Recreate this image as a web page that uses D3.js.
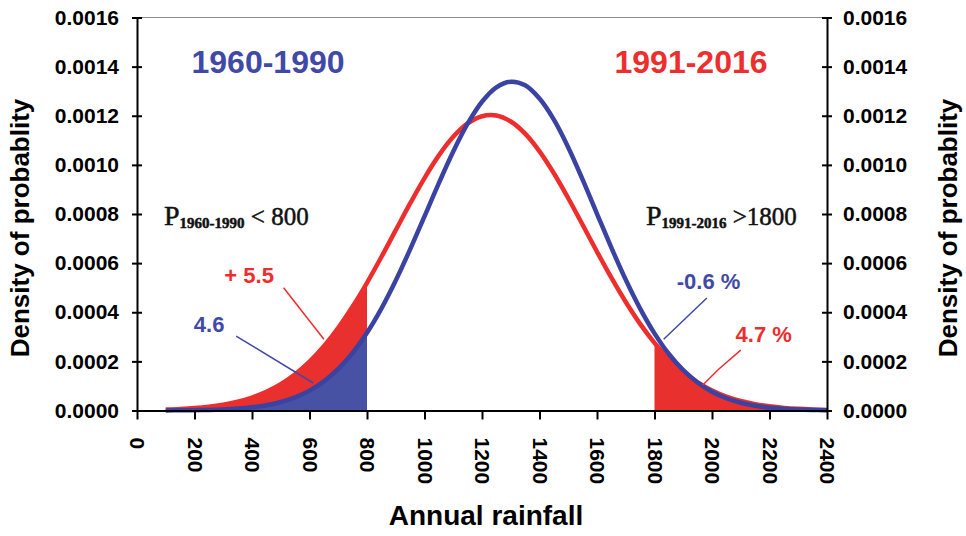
<!DOCTYPE html>
<html>
<head>
<meta charset="utf-8">
<script src="https://cdn.jsdelivr.net/npm/d3@7"></script>
<style>
  html, body { margin: 0; padding: 0; background: #fff; }
  svg { display: block; }
  text { font-family: "Liberation Sans", Arial, sans-serif; }
</style>
</head>
<body>
<svg id="chart" width="966" height="536"></svg>
<script>
// Annual rainfall (mm) at which the densities are read
const rainfall = [100,150,200,250,300,350,400,450,500,550,600,650,700,750,800,850,900,950,1000,
  1050,1100,1150,1200,1250,1300,1350,1400,1450,1500,1550,1600,1650,1700,1750,1800,1850,1900,
  1950,2000,2050,2100,2150,2200,2250,2300,2350,2400];

// Probability density, 1960-1990
const density1960 = [0.0000004,0.0000007,0.0000014,0.0000025,0.0000045,0.0000078,0.0000132,
  0.0000216,0.0000346,0.0000536,0.0000809,0.0001187,0.0001694,0.0002349,0.0003167,0.0004151,
  0.0005293,0.000656,0.0007905,0.0009258,0.0010544,0.0011676,0.0012569,0.0013156,0.0013387,
  0.001324,0.00127,0.001184,0.001071,0.00094,0.000801,0.000663,0.000532,0.000415,0.000314,
  0.00023,0.000164,0.000114,0.0000764,0.0000498,0.0000316,0.0000194,0.0000116,0.0000067,
  0.0000037,0.000002,0.0000011];

// Probability density, 1991-2016
const density1991 = [0.0000037,0.0000061,0.0000098,0.0000154,0.0000238,0.0000359,0.0000529,
  0.0000761,0.0001072,0.0001476,0.0001987,0.0002615,0.0003365,0.0004231,0.00052,0.0006248,
  0.0007341,0.000843,0.0009463,0.0010386,0.0011142,0.0011686,0.001198,0.0012008,0.0011765,
  0.001127,0.0010552,0.0009659,0.0008642,0.000756,0.0006465,0.0005405,0.0004416,0.0003528,
  0.0002755,0.0002104,0.000157,0.0001146,0.0000817,0.000057,0.0000388,0.0000259,0.0000169,
  0.0000107,0.0000067,0.0000041,0.0000024];

const xTickValues = [0,200,400,600,800,1000,1200,1400,1600,1800,2000,2200,2400];
const yTickValues = [0,0.0002,0.0004,0.0006,0.0008,0.0010,0.0012,0.0014,0.0016];

// Tail thresholds (mm)
const lowThreshold = 800;
const highThreshold = 1800;

// Percent labels with leader lines, in data units
const notes = [
  { text: "+ 5.5", color: "#ee2e2e", x: 390, y: 0.000519, line: [[510,0.000500],[650,0.000290]] },
  { text: "4.6", color: "#4149a8", x: 251, y: 0.000321, line: [[345,0.000303],[613,0.000112]] },
  { text: "-0.6 %", color: "#4149a8", x: 1988, y: 0.000495, line: [[1982,0.000458],[1832,0.000290]] },
  { text: "4.7 %", color: "#ee2e2e", x: 2180, y: 0.000280, line: [[2100,0.000246],[2024,0.000169],[1968,0.000104]] }
];

const BLUE_LINE = "#3a42a2", BLUE_FILL = "#4852a4", RED_LINE = "#ee2d2d", RED_FILL = "#e8302f";

const svg = d3.select("#chart");
const L = 137, R = 827, T = 17.5, B = 410.5;

const x = d3.scaleLinear().domain([0, 2400]).range([L, R]);
const y = d3.scaleLinear().domain([0, 0.0016]).range([B, T]);

const blue = rainfall.map((r, i) => ({ r, d: density1960[i] }));
const red = rainfall.map((r, i) => ({ r, d: density1991[i] }));

const curve = d3.curveCatmullRom.alpha(0.5);
const area = d3.area().x(p => x(p.r)).y0(y(0)).y1(p => y(p.d)).curve(curve);
const line = d3.line().x(p => x(p.r)).y(p => y(p.d)).curve(curve);

// Shaded tails
svg.append("path").datum(red.filter(p => p.r <= lowThreshold)).attr("d", area).attr("fill", RED_FILL);
svg.append("path").datum(blue.filter(p => p.r <= lowThreshold)).attr("d", area).attr("fill", BLUE_FILL);
svg.append("path").datum(red.filter(p => p.r >= highThreshold)).attr("d", area).attr("fill", RED_FILL);

// Density curves
svg.append("path").datum(red).attr("d", line).attr("fill", "none")
  .attr("stroke", RED_LINE).attr("stroke-width", 4.5);
svg.append("path").datum(blue).attr("d", line).attr("fill", "none")
  .attr("stroke", BLUE_LINE).attr("stroke-width", 4.5);

// Frame top
svg.append("line").attr("x1", L).attr("x2", R).attr("y1", T).attr("y2", T)
  .attr("stroke", "#8a8a8a").attr("stroke-width", 1);

const tickFont = sel => sel.selectAll("text")
  .attr("font-size", 21).attr("font-weight", "bold").attr("fill", "#000")
  .attr("font-family", "'Liberation Sans', Arial, sans-serif");

// Left axis
const yLeft = svg.append("g").attr("transform", `translate(${L},0)`)
  .call(d3.axisLeft(y).tickValues(yTickValues).tickFormat(d3.format(".4f")).tickSizeInner(5).tickSizeOuter(0).tickPadding(13));
yLeft.call(tickFont);
yLeft.selectAll(".tick line").attr("x1", 5).attr("stroke-width", 2);
yLeft.select(".domain").attr("stroke-width", 2);

// Right axis
const yRight = svg.append("g").attr("transform", `translate(${R},0)`)
  .call(d3.axisRight(y).tickValues(yTickValues).tickFormat(d3.format(".4f")).tickSizeInner(5).tickSizeOuter(0).tickPadding(11));
yRight.call(tickFont);
yRight.selectAll(".tick line").attr("x1", -5).attr("stroke-width", 2);
yRight.select(".domain").attr("stroke-width", 2);

// Bottom axis with vertical labels
const xAxis = svg.append("g").attr("transform", `translate(0,${B})`)
  .call(d3.axisBottom(x).tickValues(xTickValues).tickFormat(d3.format("d")).tickSizeInner(9).tickSizeOuter(0));
xAxis.call(tickFont);
xAxis.selectAll(".tick line").attr("stroke-width", 2);
xAxis.select(".domain").attr("stroke-width", 2);
xAxis.selectAll(".tick text")
  .attr("transform", "rotate(90)").attr("x", 27).attr("y", 0).attr("dy", "0.35em")
  .attr("text-anchor", "start");

// Axis titles
svg.append("text").attr("x", 486).attr("y", 525).attr("text-anchor", "middle")
  .attr("font-size", 28).attr("font-weight", "bold").text("Annual rainfall");
svg.append("text").attr("transform", "translate(29,228) rotate(-90)").attr("text-anchor", "middle")
  .attr("font-size", 26).attr("font-weight", "bold").text("Density of probablity");
svg.append("text").attr("transform", "translate(957,228) rotate(-90)").attr("text-anchor", "middle")
  .attr("font-size", 26).attr("font-weight", "bold").text("Density of probablity");

// Period headings
svg.append("text").attr("x", 268).attr("y", 73).attr("text-anchor", "middle")
  .attr("font-size", 32).attr("font-weight", "bold").attr("fill", "#4149a8").text("1960-1990");
svg.append("text").attr("x", 691).attr("y", 73).attr("text-anchor", "middle")
  .attr("font-size", 32).attr("font-weight", "bold").attr("fill", "#ee2e2e").text("1991-2016");

// Probability statements
function probLabel(px, period, rest) {
  const t = svg.append("text").attr("x", x(px)).attr("y", y(0.000755))
    .style("font-family", "'Liberation Serif', 'Times New Roman', serif")
    .attr("fill", "#111").attr("stroke", "#111").attr("stroke-width", 0.5);
  t.append("tspan").attr("font-size", 28).text("P");
  t.append("tspan").attr("font-size", 15).attr("font-weight", "bold").attr("dy", 3).text(period);
  t.append("tspan").attr("font-size", 25).attr("dy", -3).text(rest);
}
probLabel(94, "1960-1990", " < 800");
probLabel(1770, "1991-2016", " >1800");

// Percent notes and leader lines
const leader = d3.line().x(p => x(p[0])).y(p => y(p[1]));
notes.forEach(n => {
  svg.append("path").attr("d", leader(n.line)).attr("fill", "none")
    .attr("stroke", n.color).attr("stroke-width", 1.5);
  svg.append("text").attr("x", x(n.x)).attr("y", y(n.y)).attr("text-anchor", "middle")
    .attr("font-size", 22).attr("font-weight", "bold").attr("fill", n.color).text(n.text);
});
</script>
</body>
</html>
